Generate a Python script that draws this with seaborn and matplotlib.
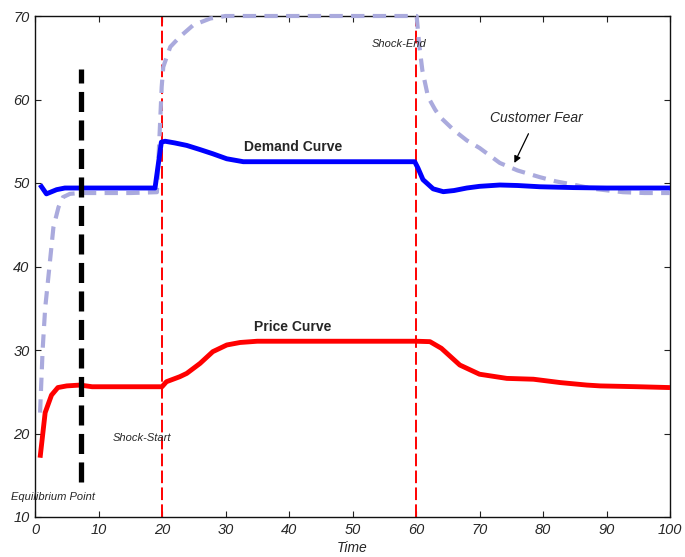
import matplotlib
matplotlib.use("Agg")
import matplotlib.pyplot as plt
import seaborn as sns
import pandas as pd

# ---- data ----
demand_t = [0.8, 1.8, 3.4, 4.7, 8, 12, 16, 18.9, 19.9, 20.5, 22, 23.9, 26, 28, 30.2, 32.8,
            40, 50, 59.8, 60.3, 61.1, 62.7, 64.3, 66, 68, 70, 73.2, 76, 79.5, 84.8, 90, 95, 100]
demand_v = [49.8, 48.7, 49.2, 49.4, 49.4, 49.4, 49.4, 49.4, 54.9, 55.0, 54.8, 54.5, 54.0, 53.5,
            52.9, 52.55, 52.55, 52.55, 52.55, 51.8, 50.4, 49.3, 48.96, 49.1, 49.4, 49.6, 49.76,
            49.7, 49.55, 49.45, 49.4, 49.4, 49.4]

fear_t = [0.8, 1.2, 1.6, 2.1, 2.9, 3.7, 4.4, 5.5, 7, 10, 15, 19.2, 19.6, 19.95, 20.2, 21.3,
          22.8, 24.9, 27.6, 30, 40, 50, 60.1, 60.5, 61, 61.9, 63, 63.8, 66, 68, 70, 73.2, 76,
          79.5, 82, 84.8, 88, 92.6, 96, 100]
fear_v = [22.5, 30, 35, 38.7, 44.7, 47.1, 48.3, 48.7, 48.8, 48.8, 48.8, 48.9, 55.5, 61.5, 63.9,
          66.3, 67.5, 68.9, 69.7, 70, 70, 70, 70, 66.6, 63.5, 60.3, 58.8, 57.9, 56.3, 55.1,
          54.2, 52.4, 51.5, 50.7, 50.2, 49.8, 49.3, 48.9, 48.8, 48.8]

price_t = [0.8, 1.6, 2.6, 3.6, 5, 7.1, 9, 15, 20, 20.7, 22.8, 23.9, 26, 28, 30.2, 32.3, 35, 40,
           50, 60, 62.2, 64, 66.9, 70, 74.3, 78.5, 82.7, 86.9, 89, 95, 100]
price_v = [17.1, 22.5, 24.6, 25.5, 25.7, 25.8, 25.6, 25.6, 25.6, 26.2, 26.8, 27.2, 28.4, 29.8,
           30.6, 30.9, 31.05, 31.05, 31.05, 31.05, 31.0, 30.2, 28.2, 27.1, 26.6, 26.5, 26.1,
           25.8, 25.7, 25.6, 25.5]

equilibrium_t = 7.2
equilibrium_range = [14.2, 63.6]
shock_start_t = 20
shock_end_t = 60

x_ticks = [0, 10, 20, 30, 40, 50, 60, 70, 80, 90, 100]
y_ticks = [10, 20, 30, 40, 50, 60, 70]

# ---- styling ----
sns.set_style("ticks")
plt.rcParams['font.family'] = ['Liberation Sans', 'DejaVu Sans']
plt.rcParams['xtick.direction'] = 'in'
plt.rcParams['ytick.direction'] = 'in'
plt.rcParams['lines.solid_joinstyle'] = 'round'
plt.rcParams['lines.dash_joinstyle'] = 'round'
plt.rcParams['lines.solid_capstyle'] = 'butt'

fig = plt.figure(figsize=(6.85, 5.57), dpi=100)
ax = fig.add_axes([35/685, 1 - 517/557, (670 - 35)/685, (517 - 16)/557])

fear_df = pd.DataFrame({"Time": fear_t, "Value": fear_v})
demand_df = pd.DataFrame({"Time": demand_t, "Value": demand_v})
price_df = pd.DataFrame({"Time": price_t, "Value": price_v})

# red shock lines
for t in (shock_start_t, shock_end_t):
    ax.axvline(t, color="#ff0000", lw=1.4, linestyle=(0, (6.5, 2.2)), zorder=2)

sns.lineplot(data=fear_df, x="Time", y="Value", ax=ax, color="#aaaadd", lw=3.0,
             linestyle=(0, (3.2, 2.0)), clip_on=False, zorder=3,
             dash_joinstyle="round")
sns.lineplot(data=demand_df, x="Time", y="Value", ax=ax, color="#0000ff", lw=3.5, zorder=4,
             solid_joinstyle="round")
sns.lineplot(data=price_df, x="Time", y="Value", ax=ax, color="#ff0000", lw=3.5, zorder=4,
             solid_joinstyle="round")

ax.plot([equilibrium_t, equilibrium_t], equilibrium_range, color="black", lw=3.8,
        linestyle=(0, (3.8, 1.6)), zorder=5)

ax.set_xlim(0, 100)
ax.set_ylim(10, 70)
ax.set_xticks(x_ticks)
ax.set_yticks(y_ticks)
ax.set_xticklabels([str(v) for v in x_ticks], fontstyle="italic", fontsize=10.5)
ax.set_yticklabels([str(v) for v in y_ticks], fontstyle="italic", fontsize=10.5)
ax.tick_params(top=True, right=True, length=4, width=0.8, color="#222222", pad=4)
for s in ax.spines.values():
    s.set_visible(True)
    s.set_linewidth(1.0)
    s.set_color("#111111")

ax.set_xlabel("Time", fontstyle="italic", fontsize=10, labelpad=3)
ax.set_ylabel("")

ax.text(12.3, 19.5, "Shock-Start", fontstyle="italic", fontsize=8, va="center", ha="left")
ax.text(-3.8, 12.4, "Equilibrium Point", fontstyle="italic", fontsize=8, va="center",
        ha="left", clip_on=False)
ax.text(53.0, 66.6, "Shock-End", fontstyle="italic", fontsize=8, va="center", ha="left")
ax.text(71.6, 57.8, "Customer Fear", fontstyle="italic", fontsize=10, va="center", ha="left")
ax.text(40.6, 54.3, "Demand Curve", fontweight="bold", fontsize=10, va="center", ha="center")
ax.text(40.6, 32.8, "Price Curve", fontweight="bold", fontsize=10, va="center", ha="center")
ax.annotate("", xy=(75.3, 52.1), xytext=(77.9, 56.2),
            arrowprops=dict(arrowstyle="-|>", color="black", lw=0.9, mutation_scale=10))

fig.savefig("out.png", dpi=100)
